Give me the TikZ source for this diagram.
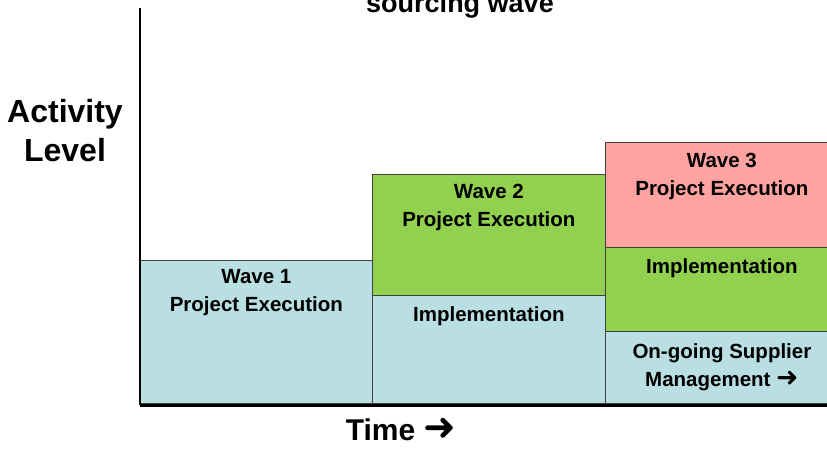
\documentclass[tikz,border=0pt]{standalone}
\usepackage{fontspec}
\setmainfont{Liberation Sans}
\newfontfamily\arrowfont{DejaVu Sans}
\definecolor{wblue}{HTML}{BADFE3}
\definecolor{wgreen}{HTML}{92D050}
\definecolor{wpink}{HTML}{FFA3A1}
\newcommand{\rarr}{{\arrowfont\mdseries\scalebox{1.3}{➜}}}
\begin{document}
\begin{tikzpicture}[x=1pt,y=-1pt,
  bar/.style={draw=black!75, line width=0.8pt, rectangle, anchor=north west, inner sep=0pt, minimum width=233pt},
  lbl/.style={anchor=north, align=center, inner sep=0pt, font=\bfseries\fontsize{20.5}{28}\selectfont},
  big/.style={inner sep=0pt, align=center, font=\bfseries\fontsize{32}{39}\selectfont}]
\clip (0,0) rectangle (827,448);
% boxes
\node[bar, fill=wblue, minimum width=232pt, minimum height=143pt] (w1) at (140,260) {};
\node[bar, fill=wgreen, minimum height=121pt] (w2a) at (372,174) {};
\node[bar, fill=wblue, minimum height=108pt] (w2b) at (372,295) {};
\node[bar, fill=wpink, minimum height=105pt] (w3a) at (605,142) {};
\node[bar, fill=wgreen, minimum height=84pt] (w3b) at (605,247) {};
\node[bar, fill=wblue, minimum height=72pt] (w3c) at (605,331) {};
% labels
\node[lbl] (t1) at ([yshift=-9pt]w1.north) {Wave 1\\Project Execution};
\node[lbl] (t2a) at ([yshift=-10pt]w2a.north) {Wave 2\\Project Execution};
\node[lbl] (t2b) at ([yshift=-11pt]w2b.north) {Implementation};
\node[lbl] (t3a) at ([yshift=-11pt]w3a.north) {Wave 3\\Project Execution};
\node[lbl] (t3b) at ([yshift=-11pt]w3b.north) {Implementation};
\node[lbl] (t3c) at ([yshift=-12pt]w3c.north) {On-going Supplier\\Management \rarr};
% axes
\coordinate (ytop) at (140,8);
\coordinate (origin) at (140,405);
\coordinate (xend) at (830,405);
\draw[line width=2.5pt] (ytop) -- (origin);
\draw[line width=3pt] (origin) -- (xend);
% axis labels
\node[big, anchor=north] (ylab) at (65,99) {Activity\\Level};
\node[big, anchor=base, font=\bfseries\fontsize{30}{36}\selectfont] (xlab) at (401,440) {Time \rarr};
\node[anchor=base, inner sep=0pt, font=\bfseries\fontsize{27}{30}\selectfont] (title) at (460,12.5) {sourcing wave};
\end{tikzpicture}
\end{document}
